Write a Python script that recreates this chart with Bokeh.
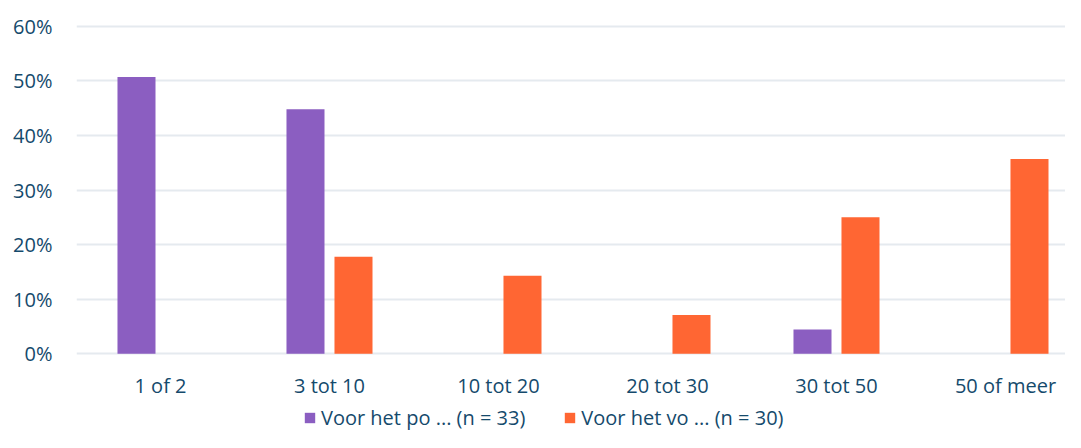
from bokeh.plotting import figure
from bokeh.models import Range1d, FixedTicker, Legend, LegendItem, ColumnDataSource
from bokeh.transform import dodge
from bokeh.core.properties import value
from bokeh.embed import file_html
from bokeh.resources import INLINE

categories = ["1 of 2", "3 tot 10", "10 tot 20", "20 tot 30", "30 tot 50", "50 of meer"]
po_values = [50.7, 44.8, 0.0, 0.0, 4.45, 0.0]
vo_values = [0.0, 17.8, 14.3, 7.1, 25.0, 35.7]
series_names = ["Voor het po ... (n = 33)", "Voor het vo ... (n = 30)"]
y_ticks = [0, 10, 20, 30, 40, 50, 60]

PURPLE = "#8B5EC1"
ORANGE = "#FF6633"
TEXT = "#154A6C"
GRID = "#E5EAEF"
FONT = "Open Sans"

W, H = 1065, 432
LEFT, TOP = 76, 23
FW, FH = W - LEFT, H - TOP
PX_PER_UNIT = 5.46
Y_TOP = 60.5

src = ColumnDataSource(dict(x=list(range(len(categories))), po=po_values, vo=vo_values,
                            base=[0] * len(categories), cat=categories))

p = figure(
    width=W, height=H,
    output_backend="svg", toolbar_location=None,
    x_range=Range1d(-0.497, -0.497 + FW / 169),
    y_range=Range1d(Y_TOP - FH / PX_PER_UNIT, Y_TOP),
    min_border_left=LEFT, min_border_right=0, min_border_top=TOP, min_border_bottom=0,
)
p.outline_line_color = None

r1 = p.vbar(x=dodge("x", -0.142), top="po", width=0.225, source=src,
            fill_color=PURPLE, line_color=None)
r2 = p.vbar(x=dodge("x", 0.142), top="vo", width=0.225, source=src,
            fill_color=ORANGE, line_color=None)

# category labels under the baseline
p.text(x="x", y="base", text="cat", source=src, y_offset=32,
       text_align="center", text_baseline="middle",
       text_font=value(FONT), text_font_size="20px", text_color=TEXT)

p.xaxis.visible = False
p.xgrid.grid_line_color = None
p.ygrid.grid_line_color = GRID
p.ygrid.grid_line_width = 2
p.ygrid.ticker = FixedTicker(ticks=y_ticks)

p.yaxis.ticker = FixedTicker(ticks=y_ticks)
p.yaxis.major_label_overrides = {t: f"{t}%" for t in y_ticks}
ax = p.yaxis[0]
ax.axis_line_color = None
ax.major_tick_line_color = None
ax.minor_tick_line_color = None
ax.major_tick_out = 0
ax.major_tick_in = 0
ax.minor_tick_out = 0
ax.minor_tick_in = 0
ax.major_label_text_color = TEXT
ax.major_label_text_font = FONT
ax.major_label_text_font_size = "20px"
ax.major_label_standoff = 24

legend = Legend(
    items=[LegendItem(label=series_names[0], renderers=[r1]),
           LegendItem(label=series_names[1], renderers=[r2])],
    orientation="horizontal",
    location=(227, 1),
    glyph_width=13, glyph_height=13,
    label_standoff=5, spacing=38,
    label_text_font=FONT, label_text_font_size="20px", label_text_color=TEXT,
    label_height=20,
    border_line_color=None, background_fill_alpha=0,
    padding=0, margin=0,
)
p.add_layout(legend, "center")

open("out.html", "w").write(file_html(p, INLINE))
